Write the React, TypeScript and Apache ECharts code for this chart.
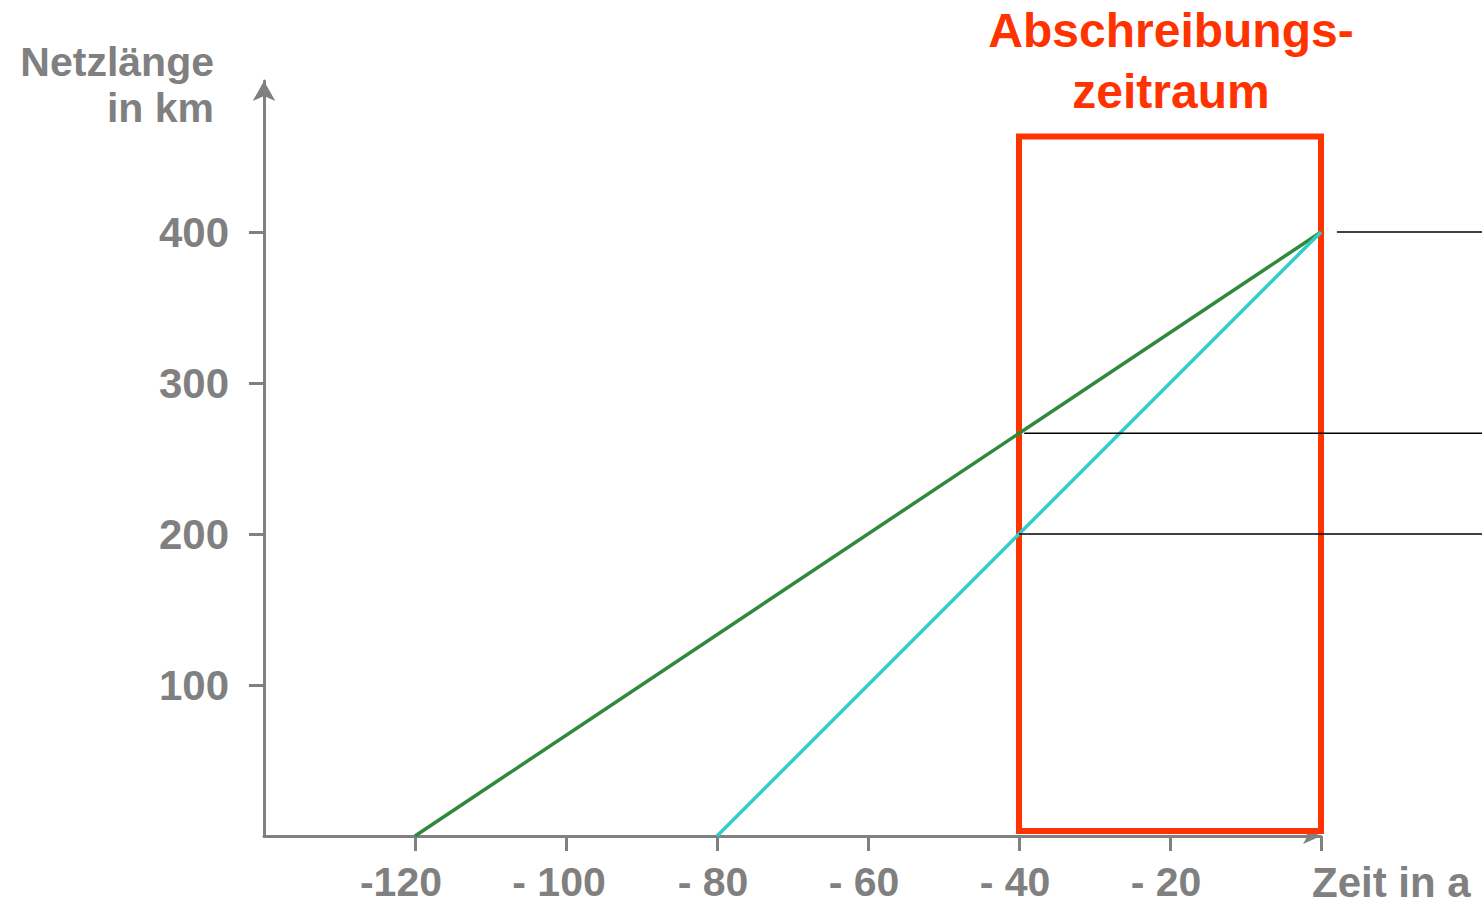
import React, { useEffect, useRef } from "react";
import * as echarts from "echarts";

const greenLine: [number, number][] = [[-120, 0], [0, 400]];
const cyanLine: [number, number][] = [[-80, 0], [0, 400]];
const refLine400: [number, number][] = [[2.1, 400], [22, 400]];
const refLine267: [number, number][] = [[-39.3, 266.67], [22, 266.67]];
const refLine200: [number, number][] = [[-40, 200], [22, 200]];
const periodBox: [number, number][] = [[-40, 3.3], [0, 463.3]];

const xTickValues = [-120, -100, -80, -60, -40, -20, 0];
const xLabelValues = [-120, -100, -80, -60, -40, -20];
const xLabelTexts = ["-120", "- 100", "- 80", "- 60", "- 40", "- 20"];
const yTickValues = [100, 200, 300, 400];
const yLabelTexts = ["100", "200", "300", "400"];

const titleText = "Abschreibungs-\nzeitraum";
const xName = "Zeit in a";
const yName = "Netzlänge\nin km";

const GRAY = "#808080";
const RED = "#ff3300";
const FONT = "'Liberation Sans', Arial, sans-serif";

// px per x unit: 1057 / 140; second (hidden) grid spans to the page's right edge
const PX_PER_X = 1057 / 140;
const X2_MAX = 1218 / PX_PER_X - 140;

export default function App() {
  const ref = useRef<HTMLDivElement>(null);
  useEffect(() => {
    if (!ref.current) return;
    const chart = echarts.init(ref.current, null, { renderer: "svg" });
    const black = (data: [number, number][]) => ({
      type: "line",
      data,
      xAxisIndex: 1,
      yAxisIndex: 1,
      symbol: "none",
      z: 5,
      lineStyle: { color: "#000", width: 1.5 },
    });
    const labelStyle = {
      color: GRAY,
      fontSize: 42,
      fontWeight: "bold",
      fontFamily: FONT,
      lineHeight: 36,
    };
    const xLabelStyle = { ...labelStyle, fontSize: 41 };
    chart.setOption({
      animation: false,
      backgroundColor: "#fff",
      grid: [
        { left: 264, right: 161, top: 81, bottom: 70, containLabel: false, outerBoundsMode: "none" },
        { left: 264, right: 0, top: 81, bottom: 70, containLabel: false, outerBoundsMode: "none" },
      ],
      graphic: [
        {
          type: "text",
          x: 1171,
          y: 60.5,
          style: {
            text: titleText,
            font: `bold 48px ${FONT}`,
            fill: RED,
            textAlign: "center",
            textVerticalAlign: "middle",
            lineHeight: 61,
          },
        },
      ],
      xAxis: [
        {
          type: "value",
          gridIndex: 0,
          min: -140,
          max: 0,
          splitLine: { show: false },
          name: xName,
          nameLocation: "end",
          nameGap: -9,
          nameTextStyle: {
            ...xLabelStyle,
            fontSize: 42,
            align: "left",
            verticalAlign: "top",
            padding: [28, 0, 0, 0],
          },
          axisLine: {
            show: true,
            onZero: false,
            lineStyle: { color: GRAY, width: 3 },
            symbol: ["none", "arrow"],
            symbolSize: [12, 18],
          },
          axisTick: { show: true, length: 15, lineStyle: { color: GRAY, width: 3 }, customValues: xTickValues },
          axisLabel: {
            customValues: xLabelValues,
            ...xLabelStyle,
            margin: 28,
            formatter: (v: number) => {
              const i = xLabelValues.indexOf(v);
              if (i < 0) return "";
              const key = i === 0 ? "a" : i === 1 ? "b" : "c";
              return `{${key}|${xLabelTexts[i]}}`;
            },
            rich: {
              a: { ...xLabelStyle, padding: [0, 28, 0, 0] },
              b: { ...xLabelStyle, padding: [0, 14, 0, 0] },
              c: { ...xLabelStyle, padding: [0, 8, 0, 0] },
            },
          },
        },
        {
          type: "value",
          gridIndex: 1,
          min: -140,
          max: X2_MAX,
          show: false,
        },
      ],
      yAxis: [
        {
          type: "value",
          gridIndex: 0,
          min: 0,
          max: 500,
          splitLine: { show: false },
          name: yName,
          nameLocation: "end",
          nameGap: -4,
          nameTextStyle: {
            ...labelStyle,
            fontSize: 41,
            lineHeight: 46,
            align: "right",
            verticalAlign: "middle",
            padding: [0, 50, 0, 0],
          },
          axisLine: {
            show: true,
            onZero: false,
            lineStyle: { color: GRAY, width: 3 },
            symbol: ["none", "arrow"],
            symbolSize: [17, 20],
          },
          axisTick: { show: true, length: 15, lineStyle: { color: GRAY, width: 3 }, customValues: yTickValues },
          axisLabel: {
            customValues: yTickValues,
            ...labelStyle,
            margin: 35,
            formatter: (v: number) => {
              const i = yTickValues.indexOf(v);
              return i >= 0 ? yLabelTexts[i] : "";
            },
          },
        },
        {
          type: "value",
          gridIndex: 1,
          min: 0,
          max: 500,
          show: false,
        },
      ],
      series: [
        {
          type: "line",
          data: greenLine,
          symbol: "none",
          z: 2,
          lineStyle: { color: "#2e8a3a", width: 3.5 },
        },
        {
          type: "line",
          data: cyanLine,
          symbol: "none",
          z: 2,
          lineStyle: { color: "#33cccc", width: 3.5 },
        },
        {
          type: "line",
          data: [],
          z: 4,
          markArea: {
            silent: true,
            itemStyle: { color: "rgba(0,0,0,0)", borderColor: RED, borderWidth: 6 },
            data: [[{ coord: periodBox[0] }, { coord: periodBox[1] }]],
          },
        },
        black(refLine400),
        black(refLine267),
        black(refLine200),
      ],
    });
    return () => chart.dispose();
  }, []);
  return <div ref={ref} style={{ position: "fixed", left: 0, top: 0, width: 1482, height: 906 }} />;
}
